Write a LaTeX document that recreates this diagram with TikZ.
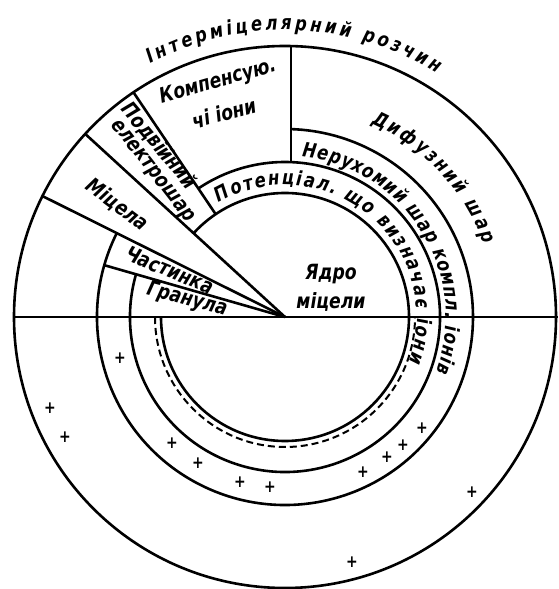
\documentclass[tikz,border=0pt]{standalone}
\usepackage{fontspec}
\setmainfont{DejaVu Sans}[FakeStretch=0.82]
\usetikzlibrary{decorations.text}
\newcommand{\labfont}{\fontsize{21}{24}\selectfont\bfseries\itshape}
\newcommand{\arcfont}{\fontsize{20}{23}\selectfont\bfseries\itshape}

\begin{document}
\begin{tikzpicture}[x=1pt, y=1pt,
    ring/.style = {line width=2.6pt},
    lab/.style = {font=\labfont, inner sep=0pt},
    ion/.style = {font=\fontsize{17}{17}\selectfont\bfseries, inner sep=0pt},
    arclab/.style = {decorate, decoration={text along path, text align=fit to path, text={|\arcfont|#1}}}]
    \useasboundingbox (0,0) rectangle (558,589);
    \coordinate (O) at (285,272);

    % circles
    \draw[ring] (O) circle[radius=271];
    \draw[ring] ([shift={(O)}]153.5:188) arc[start angle=153.5, end angle=448.2, radius=188];
    \draw[ring] ([shift={(O)}]164:155) arc[start angle=164, end angle=484, radius=155];
    \draw[ring] ([shift={(O)}]180:124) arc[start angle=180, end angle=497.5, radius=124];
    \draw[ring, line width=2pt, dash pattern=on 7pt off 4pt] ([shift={(O)}]180:130) arc[start angle=180, end angle=360, radius=130];

    % dividing lines
    \draw[ring] ([shift={(O)}]180:271) -- (558,272);
    \draw[ring] (O) -- ([shift={(O)}]164:188);
    \draw[ring] (O) -- ([shift={(O)}]153.5:271);
    \draw[ring] (O) -- ([shift={(O)}]137.5:271);
    \draw[ring] ([shift={(O)}]124:124) -- ([shift={(O)}]124:271);
    \draw[ring] (291,427) -- (291,543);

    % labels
    \node[lab] (core1) at (331,315) {Ядро};
    \node[lab] (core2) at (331,287) {міцели};
    \node[lab, rotate=-15] (granule) at (187,289) {Гранула};
    \node[lab, rotate=-22] (particle) at (170,319) {Частинка};
    \node[lab, rotate=-37] (micelle) at (117,384) {Міцела};
    \node[lab, rotate=-50] (double1) at (159,443) {Подвійний};
    \node[lab, rotate=-52] (double2) at (152,417) {електрошар};
    \node[lab, rotate=16] (comp1) at (218,507) {Компенсую.};
    \node[lab, rotate=15] (comp2) at (224,476) {чі іони};

    \path[arclab={Інтерміцелярний розчин}] ([shift={(O)}]118:287) arc[start angle=118, end angle=58, radius=287];
    \path[arclab={Дифузний шар}] ([shift={(O)}]66:212) arc[start angle=66, end angle=20, radius=212];
    \path[arclab={Нерухомий шар компл. іонів}] ([shift={(O)}]84:161) arc[start angle=84, end angle=-20, radius=161];
    \path[arclab={Потенціал. що визначає іони}] ([shift={(O)}]120:132) arc[start angle=120, end angle=-20, radius=132];

    % ions
    \node[ion] (p1) at (120,231) {+};
    \node[ion] (p2) at (172,146) {+};
    \node[ion] (p3) at (198,126) {+};
    \node[ion] (p4) at (240,107) {+};
    \node[ion] (p5) at (270,102) {+};
    \node[ion] (p6) at (363,117) {+};
    \node[ion] (p7) at (387,132) {+};
    \node[ion] (p8) at (403,144) {+};
    \node[ion] (p9) at (422,161) {+};
    \node[ion] (p10) at (50,181) {+};
    \node[ion] (p11) at (65,152) {+};
    \node[ion] (p12) at (472,97) {+};
    \node[ion] (p13) at (352,27) {+};
\end{tikzpicture}
\end{document}
